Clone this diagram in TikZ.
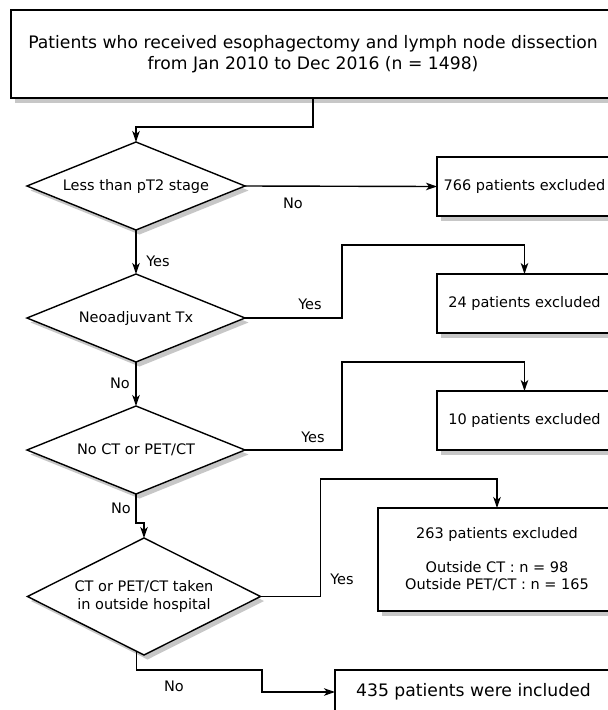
\documentclass[tikz,border=0pt]{standalone}
\usepackage{fontspec}
\setmainfont{DejaVu Sans}
\usetikzlibrary{shapes.geometric,shadows,arrows.meta,calc}
\begin{document}
\begin{tikzpicture}[x=1pt,y=-1pt,
  every node/.style={inner sep=0pt, outer sep=0pt},
  small/.style={font=\fontsize{14.5}{17.5}\selectfont},
  big/.style={font=\fontsize{17.2}{21}\selectfont},
  shad/.style={drop shadow={shadow xshift=3.5pt, shadow yshift=-4.5pt, fill=black!22, opacity=1}},
  boxnode/.style={draw, fill=white, line width=1.4pt, rectangle, align=center, shad},
  decide/.style={draw, fill=white, line width=1.4pt, diamond, align=center, shad, small},
  conn/.style={line width=1.4pt, -{Stealth[length=11pt,width=7.5pt,inset=3pt]}},
  lbl/.style={small}
]
\path[use as bounding box, clip] (0,0) rectangle (608,710);
\fill[white] (0,0) rectangle (608,710);

% nodes
\node[boxnode, big, minimum width=604pt, minimum height=88pt] (top) at (313,54)
  {Patients who received esophagectomy and lymph node dissection\\from Jan 2010 to Dec 2016 (n = 1498)};

\node[decide, shape aspect=2.48, minimum width=218pt, minimum height=88pt] (d1) at (136,186) {Less than pT2 stage};
\node[decide, shape aspect=2.48, minimum width=218pt, minimum height=88pt] (d2) at (136,318) {Neoadjuvant Tx};
\node[decide, shape aspect=2.48, minimum width=218pt, minimum height=88pt] (d3) at (136,450) {No CT or PET/CT};
\node[decide, shape aspect=2, minimum width=233pt, minimum height=117pt] (d4) at (144,596.5) {CT or PET/CT taken\\in outside hospital};

\node[boxnode, small, minimum width=175pt, minimum height=59pt] (b766) at (524.5,186.5) {766 patients excluded};
\node[boxnode, small, minimum width=175pt, minimum height=59pt] (b24) at (524.5,303.5) {24 patients excluded};
\node[boxnode, small, minimum width=175pt, minimum height=59pt] (b10) at (524.5,420.5) {10 patients excluded};
\node[boxnode, small, minimum width=238pt, minimum height=103pt] (b263) at (497,559.5)
  {263 patients excluded\\[16pt]Outside CT : n = 98\\Outside PET/CT : n = 165};
\node[boxnode, big, minimum width=277pt, minimum height=44pt] (b435) at (473.5,692) {435 patients were included};

% connectors
\draw[conn] (top.south) -- ++(0,29) -| (d1.north);
\draw[conn] (d1.east) -- (b766.west);
\draw[conn] (d1.south) -- (d2.north);
\draw[conn] (d2.east) -- ++(97,0) |- ($(b24.north)+(0,-29)$) -- (b24.north);
\draw[conn] (d2.south) -- (d3.north);
\draw[conn] (d3.east) -- ++(97,0) |- ($(b10.north)+(0,-29)$) -- (b10.north);
\draw[conn] (d3.south) -- ++(0,29) -| (d4.north);
\draw[conn] (d4.east) -- ++(60,0) |- ($(b263.north)+(0,-29)$) -- (b263.north);
\draw[conn] (d4.262) |- (262,670) |- (b435.west);

% labels
\node[lbl] (l1) at (293,203) {No};
\node[lbl] (l2) at (158,261) {Yes};
\node[lbl] (l3) at (310,304) {Yes};
\node[lbl] (l4) at (120,383) {No};
\node[lbl] (l5) at (313,437) {Yes};
\node[lbl] (l6) at (121,508) {No};
\node[lbl] (l7) at (342,579) {Yes};
\node[lbl] (l8) at (174,686) {No};
\end{tikzpicture}
\end{document}
